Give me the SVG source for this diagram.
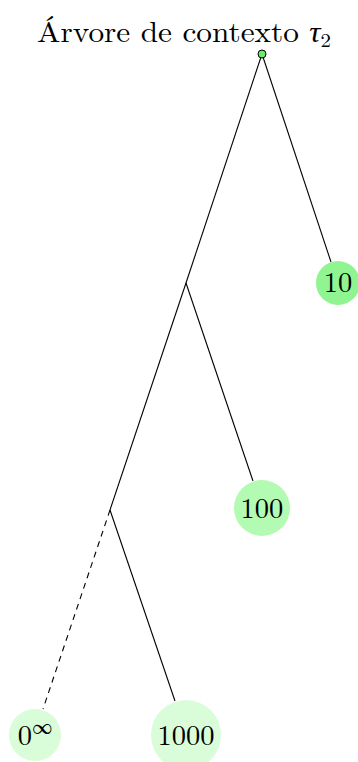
<svg xmlns="http://www.w3.org/2000/svg" width="358" height="762" viewBox="0 0 358 762">
<style>
.e{stroke:#000;stroke-width:1.1;fill:none}
.d{stroke-dasharray:6,5}
.t{font-family:"Latin Modern Roman","Liberation Serif","DejaVu Serif",serif;font-size:28.5px;fill:#000;text-anchor:middle}
</style>
<rect width="358" height="762" fill="#fff"/>
<text class="t" x="184" y="42" textLength="294" lengthAdjust="spacingAndGlyphs">Árvore de contexto <tspan font-style="italic">τ</tspan><tspan font-size="19" dy="5">2</tspan></text>
<g id="connectors">
<line class="e" x1="262" y1="54" x2="186" y2="283"/>
<line class="e" x1="262" y1="54" x2="331" y2="262"/>
<line class="e" x1="186" y1="283" x2="110" y2="510"/>
<line class="e" x1="186" y1="283" x2="253" y2="481"/>
<line class="e d" x1="110" y1="510" x2="43" y2="709"/>
<line class="e" x1="110" y1="510" x2="175" y2="701"/>
</g>
<g id="root"><circle cx="262" cy="54" r="4" fill="#66ee66" stroke="#000" stroke-width="1"/></g>
<g id="n10"><circle cx="338" cy="283" r="22" fill="#90f590"/><text class="t" x="338" y="292">10</text></g>
<g id="n100"><circle cx="262" cy="508" r="28" fill="#b3fab3"/><text class="t" x="262" y="518">100</text></g>
<g id="n0inf"><circle cx="35" cy="735" r="26" fill="#d9fcd9"/><text class="t" x="35" y="745">0<tspan font-size="20" dy="-11">∞</tspan></text></g>
<g id="n1000"><circle cx="186" cy="735" r="35" fill="#d9fcd9"/><text class="t" x="186" y="745">1000</text></g>
</svg>
